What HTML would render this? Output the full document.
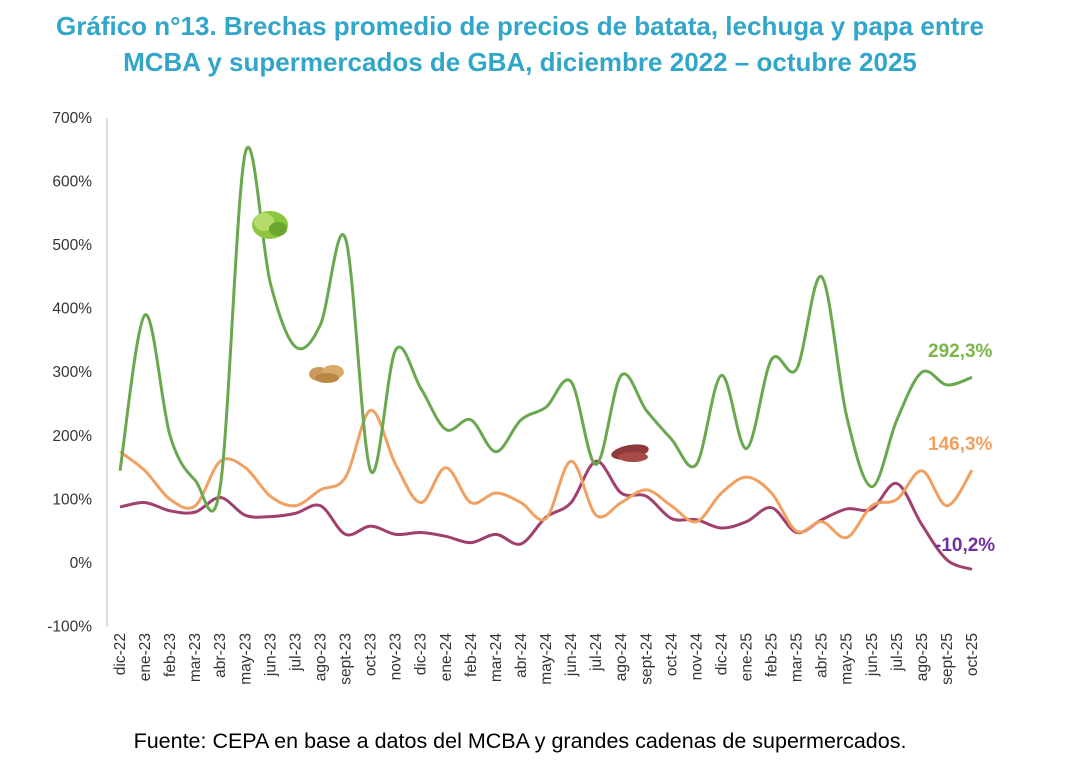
<!DOCTYPE html>
<html><head><meta charset="utf-8"><style>
body{margin:0;background:#fff;}
svg text{font-family:"Liberation Sans",Arial,sans-serif;}
</style></head><body>
<svg id="s" width="1079" height="768" viewBox="0 0 1079 768" xmlns="http://www.w3.org/2000/svg">
<rect width="1079" height="768" fill="#fff"/>
<text x="520" y="35" text-anchor="middle" font-size="26" font-weight="bold" fill="#31a6c9">Gráfico n°13. Brechas promedio de precios de batata, lechuga y papa entre</text>
<text x="520" y="71" text-anchor="middle" font-size="26" font-weight="bold" fill="#31a6c9">MCBA y supermercados de GBA, diciembre 2022 – octubre 2025</text>
<line x1="107" y1="118" x2="107" y2="627" stroke="#bfbfbf" stroke-width="1"/>
<g id="yl" font-size="15.5" fill="#333" text-anchor="end"></g>
<g id="xl" font-size="15.5" fill="#333"></g>
<g id="lines"></g>
<g transform="translate(270,225)">
<ellipse cx="0" cy="0" rx="18" ry="14" fill="#8cc63f"/>
<ellipse cx="-6" cy="-3" rx="10" ry="9" fill="#b5dc6a"/>
<ellipse cx="8" cy="4" rx="9" ry="7" fill="#6aa530"/>
</g>
<g transform="translate(327,372)">
<ellipse cx="-8" cy="2" rx="10" ry="7" fill="#c99a5b"/>
<ellipse cx="6" cy="0" rx="11" ry="7" fill="#d8ab6d"/>
<ellipse cx="0" cy="6" rx="12" ry="5" fill="#b88746"/>
</g>
<g transform="translate(630,452)">
<ellipse cx="0" cy="0" rx="19" ry="7" fill="#8e3a3a" transform="rotate(-10)"/>
<ellipse cx="3" cy="5" rx="15" ry="5" fill="#a84a45"/>
</g>
<text x="928" y="357" font-size="19" font-weight="bold" fill="#7ab648">292,3%</text>
<text x="928" y="450" font-size="19" font-weight="bold" fill="#f0a060">146,3%</text>
<text x="935" y="551" font-size="19" font-weight="bold" fill="#7030a0">-10,2%</text>
<text x="520" y="748" text-anchor="middle" font-size="21.5" fill="#000">Fuente: CEPA en base a datos del MCBA y grandes cadenas de supermercados.</text>
</svg>
<script>
const ns="http://www.w3.org/2000/svg";
function y(v){return 563-v*0.636;}
function x(i){return 120+i*25.06;}
const yl=document.getElementById('yl');
for(let v=-100;v<=700;v+=100){const t=document.createElementNS(ns,'text');t.setAttribute('x',92);t.setAttribute('y',y(v)+5);t.textContent=v+'%';yl.appendChild(t);}
const m=["dic-22","ene-23","feb-23","mar-23","abr-23","may-23","jun-23","jul-23","ago-23","sept-23","oct-23","nov-23","dic-23","ene-24","feb-24","mar-24","abr-24","may-24","jun-24","jul-24","ago-24","sept-24","oct-24","nov-24","dic-24","ene-25","feb-25","mar-25","abr-25","may-25","jun-25","jul-25","ago-25","sept-25","oct-25"];
const xl=document.getElementById('xl');
m.forEach((s,i)=>{const t=document.createElementNS(ns,'text');t.setAttribute('transform',`translate(${x(i)+5},633) rotate(-90)`);t.setAttribute('text-anchor','end');t.textContent=s;xl.appendChild(t);});
const G=[145,390,200,130,120,645,440,340,375,510,145,335,275,210,225,175,225,245,285,155,295,240,195,155,295,180,320,305,450,230,120,225,300,280,292];
const O=[175,145,100,90,160,150,105,90,115,135,240,155,95,150,95,110,95,70,160,75,95,115,90,65,110,135,110,50,65,40,90,100,145,90,146];
const P=[88,95,82,80,103,75,73,78,90,45,58,45,48,42,32,45,30,72,95,160,110,105,70,68,55,65,87,48,68,85,85,125,60,5,-10];
function path(d){const p=d.map((v,i)=>[x(i),y(v)]);let s=`M${p[0][0]},${p[0][1]}`;
for(let i=0;i<p.length-1;i++){const p0=p[i-1]||p[i],p1=p[i],p2=p[i+1],p3=p[i+2]||p2;const k=6;
s+=` C${p1[0]+(p2[0]-p0[0])/k},${p1[1]+(p2[1]-p0[1])/k} ${p2[0]-(p3[0]-p1[0])/k},${p2[1]-(p3[1]-p1[1])/k} ${p2[0]},${p2[1]}`;}return s;}
const L=document.getElementById('lines');
[[P,'#a0406e'],[O,'#f0a060'],[G,'#6aa84f']].forEach(([d,c])=>{const e=document.createElementNS(ns,'path');e.setAttribute('d',path(d));e.setAttribute('fill','none');e.setAttribute('stroke',c);e.setAttribute('stroke-width','3');L.appendChild(e);});
</script>
</body></html>
